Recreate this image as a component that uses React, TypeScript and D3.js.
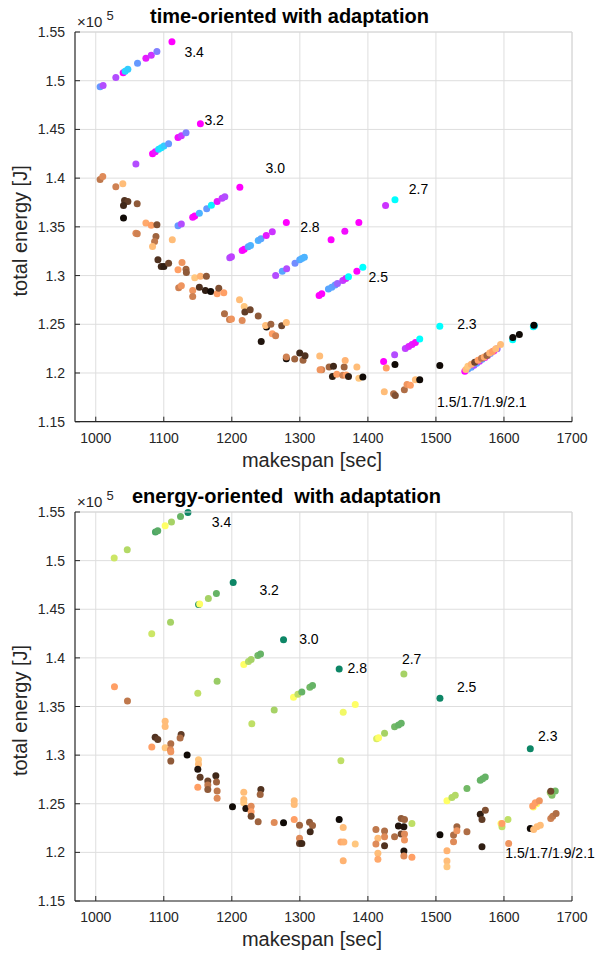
import { useEffect, useRef } from "react"
import * as d3 from "d3"

// [makespan, energy (x1e5), colormap value]
const timeCool = [
  // 3.4
  [1006.4, 1.4938, 0.4], [1010.8, 1.4952, 0.7], [1029.5, 1.5034, 0.7], [1040.3, 1.5082, 1.0], [1043.2, 1.5096, 0.15], [1047.2, 1.5117, 0.2],
  [1061.4, 1.5179, 0.4], [1073.7, 1.523, 0.9], [1081.6, 1.5261, 0.8], [1089.9, 1.5299, 0.5], [1112, 1.5399, 1.0],
  // 3.2
  [1059, 1.4144, 0.7], [1083.5, 1.4251, 1.0], [1087.5, 1.4272, 0.9], [1092.4, 1.4296, 0.15], [1096.3, 1.4313, 0.1], [1100.2, 1.433, 0.2],
  [1107.1, 1.4354, 0.4], [1120.9, 1.4416, 0.95], [1125.8, 1.4436, 0.8], [1132.7, 1.4467, 0.5], [1153.8, 1.4557, 1.0],
  // 3.0
  [1120.9, 1.3512, 0.4], [1125.8, 1.3529, 0.7], [1142.5, 1.3598, 0.95], [1145.5, 1.3612, 1.0], [1152.3, 1.3639, 0.3], [1163.1, 1.3687, 0.4],
  [1170, 1.3722, 0.05], [1178.4, 1.376, 0.9], [1185.7, 1.3794, 0.75], [1189.7, 1.3808, 0.7], [1211.8, 1.3907, 1.0],
  // 2.8
  [1197, 1.3182, 0.7], [1199.5, 1.3192, 0.75], [1215.2, 1.3257, 0.95], [1218.2, 1.3271, 1.0], [1224.1, 1.3295, 0.35], [1227.5, 1.3309, 0.3],
  [1238.8, 1.336, 0.3], [1242.8, 1.3377, 0.35], [1250.6, 1.3411, 0.9], [1259.5, 1.3449, 0.8], [1280.1, 1.3544, 1.0],
  // 2.7
  [1264.4, 1.3001, 0.7], [1274.2, 1.3045, 0.35], [1280.6, 1.3069, 0.7], [1292.9, 1.3127, 0.45], [1299.8, 1.3162, 0.35], [1303, 1.3176, 0.3],
  [1306.6, 1.3189, 0.3], [1345.9, 1.3367, 1.0], [1366.1, 1.3456, 0.95], [1386.7, 1.3544, 1.0], [1426, 1.3719, 0.8], [1439.8, 1.3777, 0.0],
  // 2.5
  [1328.3, 1.2796, 1.0], [1332.2, 1.2813, 1.0], [1342, 1.2861, 0.35], [1346.9, 1.2881, 0.35], [1351.8, 1.2902, 0.4], [1355.3, 1.2919, 0.6],
  [1363.1, 1.295, 0.75], [1367.6, 1.297, 0.85], [1371.5, 1.2987, 0.0], [1383.8, 1.3045, 1.0], [1392.6, 1.3086, 0.0],
  // 2.3
  [1423.1, 1.2119, 1.0], [1439.3, 1.2187, 0.7], [1455, 1.2252, 0.75], [1460, 1.2273, 0.85], [1464.9, 1.2293, 0.9], [1469.8, 1.2314, 0.95],
  [1476.2, 1.2348, 0.0], [1505.7, 1.2481, 0.0],
  // 1.5 / 1.7 / 1.9 / 2.1
  [1542.5, 1.2017, 1.0], [1547, 1.204, 0.4], [1552, 1.206, 0.35], [1556, 1.208, 0.7], [1560, 1.21, 0.35], [1564, 1.212, 0.8],
  [1568, 1.214, 0.4], [1572, 1.216, 0.9], [1576, 1.218, 0.7], [1580, 1.22, 0.45], [1585, 1.2225, 0.95], [1590, 1.225, 0.6],
  [1612.8, 1.2341, 0.0], [1643.2, 1.2475, 0.0], [1645, 1.2485, 0.1],
]

const timeCopper = [
  [1006.4, 1.3986, 0.6], [1010.3, 1.4017, 0.7], [1029.5, 1.3911, 0.65], [1039.8, 1.3942, 0.95], [1042.3, 1.377, 0.25], [1047.2, 1.376, 0.3],
  [1040.8, 1.3718, 0.2], [1060.9, 1.3736, 0.45], [1040.8, 1.3591, 0.05], [1073.7, 1.354, 0.85], [1081.6, 1.3516, 0.8], [1089.9, 1.3522, 0.4],
  [1059, 1.3435, 0.7], [1061, 1.343, 0.65], [1088.5, 1.3401, 0.5], [1086.5, 1.335, 0.6], [1083.5, 1.3298, 0.95], [1112.5, 1.3367, 0.95],
  [1091.4, 1.3162, 0.25], [1096.3, 1.3093, 0.2], [1100.2, 1.3093, 0.15], [1107.1, 1.3127, 0.35], [1120.9, 1.3059, 0.8], [1126.8, 1.3134, 0.75],
  [1132.7, 1.3066, 0.5], [1133.2, 1.3032, 0.45], [1121.9, 1.2875, 0.65], [1125.8, 1.2895, 0.75], [1142.5, 1.2847, 0.75], [1142.5, 1.2786, 0.65],
  [1145.5, 1.2977, 1.0], [1153.8, 1.2994, 0.9], [1162.6, 1.2994, 0.45], [1152.3, 1.2881, 0.25], [1161.2, 1.2847, 0.15], [1169, 1.2837, 0.05],
  [1178.4, 1.2813, 0.8], [1180.8, 1.2871, 0.4], [1188.2, 1.2823, 0.8], [1189.2, 1.2608, 0.55], [1196.6, 1.255, 0.65], [1199.5, 1.2553, 0.75],
  [1211.3, 1.2751, 0.95], [1218.2, 1.2683, 1.0], [1219.2, 1.2625, 0.3], [1227, 1.2649, 0.35], [1215.2, 1.254, 0.7], [1238.8, 1.2584, 0.45],
  [1243.2, 1.2324, 0.1], [1251, 1.2471, 0.05], [1249.6, 1.2488, 0.95], [1257.4, 1.2499, 0.5], [1259.5, 1.2403, 0.8], [1264.4, 1.2382, 0.65],
  [1273.3, 1.2485, 0.35], [1280.1, 1.2519, 0.95], [1280.1, 1.2146, 0.05], [1280.1, 1.2164, 0.65], [1292.4, 1.2143, 0.5], [1299.8, 1.2205, 0.2],
  [1304.7, 1.213, 0.5], [1307.6, 1.2177, 0.25], [1329.2, 1.2174, 0.95], [1332.2, 1.2034, 0.65], [1329.7, 1.2034, 0.75], [1343, 1.2061, 0.5],
  [1349.4, 1.2068, 0.2], [1347.9, 1.1965, 0.15], [1354.3, 1.1986, 0.8], [1363.1, 1.1976, 0.65], [1365.1, 1.2061, 0.5], [1366.6, 1.2129, 0.9],
  [1368.1, 1.198, 0.8], [1371.5, 1.1965, 0.15], [1383.8, 1.2061, 0.95], [1386.7, 1.1945, 1.0], [1392.6, 1.1958, 0.05], [1424.1, 1.1808, 0.95],
  [1427, 1.2051, 0.8], [1437.8, 1.1788, 0.55], [1440.3, 1.177, 0.4], [1439.8, 1.2088, 0.05], [1453.6, 1.1829, 0.55], [1457.5, 1.1883, 0.75],
  [1462.4, 1.1873, 0.8], [1469.8, 1.1931, 0.95], [1476.2, 1.1931, 0.05], [1505.7, 1.2078, 0.05],
  [1544, 1.2035, 0.95], [1547, 1.207, 1.0], [1552, 1.209, 0.9], [1557, 1.211, 0.35], [1562, 1.213, 0.8], [1567, 1.215, 0.6],
  [1571, 1.2165, 0.85], [1575, 1.218, 0.5], [1579, 1.2205, 0.9], [1583, 1.222, 0.8], [1588, 1.225, 0.95], [1595, 1.2293, 0.95],
  [1613, 1.2365, 0.05], [1622.6, 1.2396, 0.05], [1644, 1.249, 0.02],
]

const energySummer = [
  // 3.4
  [1027.1, 1.5026, 0.8], [1046.3, 1.5112, 0.7], [1087.7, 1.5294, 0.3], [1091.1, 1.5308, 0.35], [1102, 1.5359, 1.0], [1111.3, 1.5397, 0.65],
  [1124.6, 1.5455, 0.4], [1135.5, 1.5495, 0.05],
  // 3.2
  [1082.3, 1.4249, 0.8], [1109.9, 1.4366, 0.65], [1151.2, 1.4548, 0.1], [1152.7, 1.4555, 1.0], [1165.5, 1.461, 0.65], [1177.3, 1.4662, 0.4],
  [1202, 1.4775, 0.05],
  // 3.0
  [1150, 1.3636, 0.75], [1178.4, 1.3759, 0.6], [1217.6, 1.3933, 1.0], [1224.5, 1.3964, 0.7], [1228.4, 1.3984, 0.65], [1238.2, 1.4025, 0.45],
  [1242.2, 1.4039, 0.4], [1276, 1.4186, 0.05],
  // 2.8
  [1229.4, 1.3322, 0.75], [1262.3, 1.3465, 0.65], [1290.7, 1.3595, 1.0], [1297.1, 1.3626, 0.75], [1302.9, 1.365, 0.4], [1314.7, 1.3697, 0.45],
  [1318.6, 1.3715, 0.4], [1357.8, 1.3885, 0.05],
  // 2.7
  [1363.7, 1.3441, 0.95], [1381.4, 1.352, 1.0], [1452.9, 1.3834, 0.65],
  // 2.5
  [1360.3, 1.2943, 0.75], [1412.8, 1.3168, 0.85], [1415.7, 1.3178, 1.0], [1424.5, 1.3226, 0.65], [1439.2, 1.3291, 0.45], [1445, 1.331, 0.4],
  [1449, 1.3329, 0.4], [1505.9, 1.3585, 0.05],
  // 2.3
  [1516.2, 1.253, 1.0], [1523.5, 1.2564, 0.7], [1528.4, 1.2588, 0.7], [1545.6, 1.2656, 0.45], [1565.2, 1.2741, 0.4], [1568.6, 1.2758, 0.4],
  [1572.5, 1.2775, 0.4], [1638.7, 1.3066, 0.05],
  // 1.5 / 1.7 / 1.9 / 2.1
  [1464.7, 1.2297, 0.75], [1595.6, 1.2297, 1.0], [1597.1, 1.2263, 0.75], [1605.9, 1.2338, 0.75], [1643.1, 1.2466, 1.0], [1648, 1.2501, 1.0],
  [1670.6, 1.2588, 0.5], [1675.4, 1.2632, 0.45], [1668, 1.2615, 0.6],
]

const energyCopper = [
  [1027.5, 1.3704, 0.8], [1046.6, 1.3557, 0.6], [1087.3, 1.3185, 0.25], [1091.2, 1.3161, 0.3], [1082.4, 1.3083, 0.8], [1102, 1.3349, 0.95],
  [1102, 1.3294, 0.95], [1102, 1.3076, 1.0], [1110.3, 1.3117, 0.55], [1109.8, 1.3055, 0.7], [1110.3, 1.3035, 0.75], [1110.3, 1.2939, 0.45],
  [1125.5, 1.3213, 0.3], [1124, 1.3175, 0.55], [1134.3, 1.3001, 0.05], [1151, 1.2953, 1.0], [1151, 1.2905, 0.95], [1150, 1.2854, 0.1],
  [1153.4, 1.2772, 0.3], [1150, 1.267, 0.8], [1164.7, 1.2734, 0.35], [1164.7, 1.2693, 0.6], [1164.7, 1.2646, 0.45], [1176.5, 1.2789, 0.2],
  [1177.5, 1.2724, 0.5], [1178.4, 1.2632, 0.6], [1178.4, 1.2557, 0.7], [1201, 1.2468, 0.05], [1217.6, 1.2618, 0.95], [1217.6, 1.2543, 0.95],
  [1217.6, 1.2509, 1.0], [1220.6, 1.2451, 0.1], [1228.4, 1.2475, 0.7], [1228.4, 1.2417, 0.8], [1228.4, 1.2372, 0.35], [1242.7, 1.2646, 0.25],
  [1241.7, 1.2594, 0.5], [1238.7, 1.2314, 0.5], [1262.3, 1.2308, 0.7], [1276, 1.2304, 0.05], [1291.7, 1.253, 0.95], [1291.7, 1.2492, 0.95],
  [1291.7, 1.2338, 0.8], [1299.5, 1.228, 0.5], [1299.5, 1.2144, 0.7], [1299.5, 1.2092, 0.3], [1302.9, 1.2092, 0.2], [1314.2, 1.2311, 0.45],
  [1318.6, 1.2277, 0.5], [1315.2, 1.2212, 0.2], [1357.8, 1.2338, 0.05], [1363.7, 1.2256, 0.95], [1360.3, 1.2106, 0.85], [1364.7, 1.2106, 0.9],
  [1381.4, 1.2085, 1.0], [1363.7, 1.1915, 0.9], [1411.8, 1.2236, 0.6], [1414.7, 1.2144, 0.95], [1411.8, 1.2085, 0.7], [1424.5, 1.2219, 0.55],
  [1424.5, 1.2161, 0.7], [1424.5, 1.2069, 0.25], [1414.7, 1.199, 0.95], [1414.7, 1.1929, 0.85], [1439.2, 1.2161, 0.55], [1444.9, 1.227, 0.1],
  [1448.9, 1.2348, 0.45], [1453.8, 1.2338, 0.5], [1452.9, 1.2263, 0.1], [1448.9, 1.2188, 0.35], [1453.8, 1.2188, 0.7], [1453.8, 1.2127, 0.75],
  [1452.9, 1.2014, 0.1], [1452.9, 1.1963, 0.7], [1464.7, 1.1949, 0.8], [1505.9, 1.2181, 0.05], [1516.2, 1.2017, 0.9], [1516.2, 1.1911, 0.95],
  [1516.2, 1.1853, 1.0], [1525.9, 1.2109, 0.7], [1525.9, 1.2178, 0.55], [1530.8, 1.2263, 0.5], [1530.8, 1.2222, 0.75], [1545.6, 1.2212, 0.55],
  [1565.2, 1.2393, 0.15], [1567.7, 1.2338, 0.3], [1572.6, 1.2434, 0.4], [1567.7, 1.2058, 0.15], [1597.1, 1.2297, 0.8], [1606.9, 1.2092, 0.75],
  [1638.7, 1.2246, 0.05], [1643.6, 1.2236, 0.95], [1648.5, 1.2263, 0.95], [1653.4, 1.228, 0.95], [1642.2, 1.2478, 0.8], [1646.1, 1.2509, 0.8],
  [1652, 1.253, 0.75], [1668.8, 1.2348, 0.65], [1671.7, 1.2372, 0.6], [1676.6, 1.24, 0.55], [1668.8, 1.2629, 0.35],
]

// [text, makespan, energy]
const timeLabels = [
  ["3.4", 1130.3, 1.5299], ["3.2", 1159.7, 1.4597], ["3.0", 1249.6, 1.4103], ["2.8", 1300.4, 1.3496],
  ["2.7", 1460, 1.389], ["2.5", 1401, 1.2984], ["2.3", 1531.2, 1.2499], ["1.5/1.7/1.9/2.1", 1501.7, 1.1702],
]
const energyLabels = [
  ["3.4", 1170.6, 1.5397], ["3.2", 1240.6, 1.4698], ["3.0", 1299, 1.4193], ["2.8", 1370.1, 1.3896],
  ["2.7", 1450, 1.3988], ["2.5", 1530.9, 1.3697], ["2.3", 1650, 1.3192], ["1.5/1.7/1.9/2.1", 1602, 1.199],
]

const xTicks = [1000, 1100, 1200, 1300, 1400, 1500, 1600, 1700]
const yTicks = [1.15, 1.2, 1.25, 1.3, 1.35, 1.4, 1.45, 1.5, 1.55]

// MATLAB-like colormaps
const cool = (t) => d3.rgb(255 * t, 255 * (1 - t), 255)
const copper = (t) => d3.rgb(255 * Math.min(1, 1.25 * t), 255 * 0.7812 * t, 255 * 0.4975 * t)
const summer = (t) => d3.rgb(255 * t, 255 * (0.5 + 0.5 * t), 0.4 * 255)

const FONT = "'Liberation Sans', Arial, Helvetica, sans-serif"
const ink = "#262626"

const App = () => {
  const ref = useRef(null)

  useEffect(() => {
    const svg = d3.select(ref.current)
    svg.selectAll("*").remove()

    const left = 75, right = 572
    const x = d3.scaleLinear().domain([969.5, 1700]).range([left, right])

    const panels = [
      { top: 32, bottom: 421.7, title: "time-oriented with adaptation", titleX: 150, upper: timeCool, upperMap: cool, lower: timeCopper, labels: timeLabels },
      { top: 512, bottom: 901, title: "energy-oriented  with adaptation", titleX: 132, upper: energySummer, upperMap: summer, lower: energyCopper, labels: energyLabels },
    ]

    panels.forEach(p => {
      const y = d3.scaleLinear().domain([1.15, 1.55]).range([p.bottom, p.top])
      const g = svg.append("g")

      // grid
      g.selectAll(".vg").data(xTicks).enter().append("line")
        .attr("x1", d => x(d)).attr("x2", d => x(d))
        .attr("y1", p.top).attr("y2", p.bottom)
        .attr("stroke", "#dedede").attr("stroke-width", 1)
      g.selectAll(".hg").data(yTicks).enter().append("line")
        .attr("x1", left).attr("x2", right)
        .attr("y1", d => y(d)).attr("y2", d => y(d))
        .attr("stroke", "#dedede").attr("stroke-width", 1)

      // points
      const r = 3.5
      g.selectAll(".up").data(p.upper).enter().append("circle")
        .attr("cx", d => x(d[0])).attr("cy", d => y(d[1])).attr("r", r)
        .attr("fill", d => p.upperMap(d[2]))
      g.selectAll(".lo").data(p.lower).enter().append("circle")
        .attr("cx", d => x(d[0])).attr("cy", d => y(d[1])).attr("r", r)
        .attr("fill", d => copper(d[2]))

      // axes lines
      g.append("line").attr("x1", left).attr("x2", right).attr("y1", p.top).attr("y2", p.top).attr("stroke", "#d6d6d6")
      g.append("line").attr("x1", right).attr("x2", right).attr("y1", p.top).attr("y2", p.bottom).attr("stroke", "#d6d6d6")
      g.append("line").attr("x1", left).attr("x2", right).attr("y1", p.bottom).attr("y2", p.bottom).attr("stroke", ink).attr("stroke-width", 1.2)
      g.append("line").attr("x1", left).attr("x2", left).attr("y1", p.top).attr("y2", p.bottom).attr("stroke", ink).attr("stroke-width", 1.2)

      // ticks
      g.selectAll(".xt").data(xTicks).enter().append("line")
        .attr("x1", d => x(d)).attr("x2", d => x(d))
        .attr("y1", p.bottom).attr("y2", p.bottom - 5).attr("stroke", ink)
      g.selectAll(".yt").data(yTicks).enter().append("line")
        .attr("x1", left).attr("x2", left + 5)
        .attr("y1", d => y(d)).attr("y2", d => y(d)).attr("stroke", ink)

      g.selectAll(".xl").data(xTicks).enter().append("text")
        .attr("x", d => x(d)).attr("y", p.bottom + 21)
        .attr("text-anchor", "middle").attr("font-size", 14).attr("fill", ink).attr("font-family", FONT)
        .text(d => d)
      g.selectAll(".yl").data(yTicks).enter().append("text")
        .attr("x", left - 10).attr("y", d => y(d) + 5)
        .attr("text-anchor", "end").attr("font-size", 14).attr("fill", ink).attr("font-family", FONT)
        .text(d => d3.format("")(d))

      // exponent
      const ex = g.append("text").attr("x", 77).attr("y", p.top - 5)
        .attr("font-size", 15).attr("fill", ink).attr("font-family", FONT)
      ex.append("tspan").text("\u00d710")
      ex.append("tspan").attr("dx", 4).attr("dy", -7).attr("font-size", 13).text("5")

      // series labels
      g.selectAll(".lab").data(p.labels).enter().append("text")
        .attr("x", d => x(d[1])).attr("y", d => y(d[2]) + 5)
        .attr("font-size", 14).attr("fill", "#000").attr("font-family", FONT)
        .text(d => d[0])

      // titles
      g.append("text").attr("x", p.titleX).attr("y", p.top - 9)
        .attr("font-size", 20).attr("font-weight", "bold").attr("fill", "#000").attr("font-family", FONT)
        .attr("xml:space", "preserve").style("white-space", "pre")
        .text(p.title)
      g.append("text").attr("x", 312).attr("y", p.bottom + 45)
        .attr("text-anchor", "middle").attr("font-size", 20).attr("fill", ink).attr("font-family", FONT)
        .text("makespan [sec]")
      g.append("text")
        .attr("transform", `translate(27,${(p.top + p.bottom) / 2 + 4}) rotate(-90)`)
        .attr("text-anchor", "middle").attr("font-size", 20).attr("fill", ink).attr("font-family", FONT)
        .text("total energy [J]")
    })
  }, [])

  return <svg ref={ref} width={597} height={956} style={{ position: "absolute", left: 0, top: 0, background: "#fff" }} />
}

export default App
